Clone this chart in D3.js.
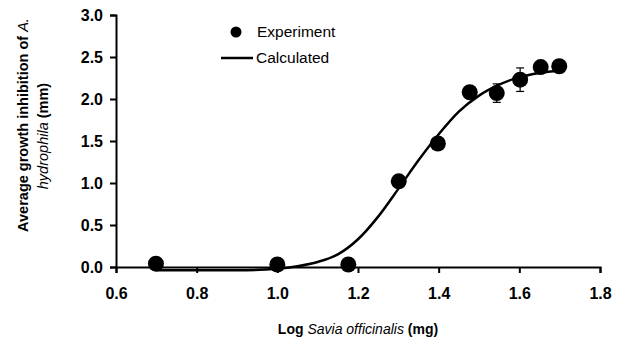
<!DOCTYPE html>
<html>
<head>
<meta charset="utf-8">
<script src="https://cdn.jsdelivr.net/npm/d3@7"></script>
<style>
  body { margin: 0; background: #fff; }
  text { font-family: "Liberation Sans", Arial, sans-serif; fill: #000; }
</style>
</head>
<body>
<div class="chart"></div>
<script>
// measured points
const logDose = [0.699, 1.0, 1.176, 1.301, 1.398, 1.477, 1.544, 1.602, 1.653, 1.699];
const inhibition = [0.04, 0.03, 0.03, 1.02, 1.47, 2.08, 2.07, 2.23, 2.38, 2.39];
const inhibitionErr = [0, 0, 0, 0, 0, 0, 0.11, 0.14, 0, 0];

// fitted curve
const curveX = [0.70, 0.80, 0.90, 1.00, 1.05, 1.10, 1.15, 1.20, 1.25, 1.30, 1.35, 1.40, 1.45, 1.50, 1.55, 1.60, 1.65, 1.70];
const curveY = [-0.04, -0.04, -0.04, -0.02, 0.01, 0.06, 0.15, 0.33, 0.60, 0.93, 1.27, 1.58, 1.85, 2.04, 2.17, 2.26, 2.31, 2.34];

const xTicks = [0.6, 0.8, 1.0, 1.2, 1.4, 1.6, 1.8];
const yTicks = [0, 0.5, 1.0, 1.5, 2.0, 2.5, 3.0];

const WIDTH = 626;
const HEIGHT = 340;
const LEFT = 116;
const RIGHT = 600;
const TOP = 15;
const BOTTOM = 267;

const svg = d3.create("svg").attr("width", WIDTH).attr("height", HEIGHT);

const xScale = d3.scaleLinear().domain([0.6, 1.8]).range([LEFT, RIGHT]);
const yScale = d3.scaleLinear().domain([0, 3]).range([BOTTOM, TOP]);

const xAxis = d3.axisBottom(xScale).tickValues(xTicks).tickFormat(d3.format(".1f")).tickSize(6).tickPadding(15);
const yAxis = d3.axisLeft(yScale).tickValues(yTicks).tickFormat(d3.format(".1f")).tickSize(6).tickPadding(7);

const gx = svg.append("g").attr("transform", `translate(0, ${BOTTOM})`).call(xAxis);
const gy = svg.append("g").attr("transform", `translate(${LEFT}, 0)`).call(yAxis);

for (const g of [gx, gy]) {
  g.select(".domain").attr("stroke", "#000").attr("stroke-width", 2);
  g.selectAll(".tick line").attr("stroke", "#000").attr("stroke-width", 2);
  g.selectAll(".tick text")
    .style("font-family", "'Liberation Sans', Arial, sans-serif")
    .style("font-size", "16px")
    .style("font-weight", "bold")
    .attr("fill", "#000");
}

// calculated curve
const line = d3.line()
  .x((d, i) => xScale(curveX[i]))
  .y((d) => yScale(d))
  .curve(d3.curveMonotoneX);

svg.append("path")
  .attr("d", line(curveY))
  .attr("fill", "none")
  .attr("stroke", "#000")
  .attr("stroke-width", 2.5);

// error bars
const errs = svg.append("g").attr("stroke", "#000").attr("stroke-width", 1.2);
logDose.forEach((x, i) => {
  if (!inhibitionErr[i]) return;
  const cx = xScale(x);
  const y0 = yScale(inhibition[i] - inhibitionErr[i]);
  const y1 = yScale(inhibition[i] + inhibitionErr[i]);
  errs.append("line").attr("x1", cx).attr("x2", cx).attr("y1", y0).attr("y2", y1);
  errs.append("line").attr("x1", cx - 4).attr("x2", cx + 4).attr("y1", y0).attr("y2", y0);
  errs.append("line").attr("x1", cx - 4).attr("x2", cx + 4).attr("y1", y1).attr("y2", y1);
});

// experiment points
svg.append("g")
  .selectAll("circle")
  .data(logDose)
  .join("circle")
  .attr("cx", (d) => xScale(d))
  .attr("cy", (d, i) => yScale(inhibition[i]))
  .attr("r", 8)
  .attr("fill", "#000");

// legend
const legend = svg.append("g");
legend.append("circle").attr("cx", 236).attr("cy", 32).attr("r", 5.5).attr("fill", "#000");
legend.append("text").attr("x", 257).attr("y", 32).attr("dy", "0.35em")
  .style("font-size", "15.5px").text("Experiment");
legend.append("line").attr("x1", 221).attr("x2", 253).attr("y1", 58).attr("y2", 58)
  .attr("stroke", "#000").attr("stroke-width", 2.5);
legend.append("text").attr("x", 256).attr("y", 58).attr("dy", "0.35em")
  .style("font-size", "15.5px").text("Calculated");

// x title
const xTitle = svg.append("text")
  .attr("x", (LEFT + RIGHT) / 2)
  .attr("y", 329)
  .attr("dy", "0.35em")
  .attr("text-anchor", "middle")
  .style("font-size", "14px");
xTitle.append("tspan").style("font-weight", "bold").text("Log ");
xTitle.append("tspan").style("font-style", "italic").text("Savia officinalis");
xTitle.append("tspan").style("font-weight", "bold").text(" (mg)");

// y title, two lines
const yTitle1 = svg.append("text")
  .attr("transform", "translate(23, 125) rotate(-90)")
  .attr("dy", "0.35em")
  .attr("text-anchor", "middle")
  .style("font-size", "14.5px");
yTitle1.append("tspan").style("font-weight", "bold").text("Average growth inhibition of ");
yTitle1.append("tspan").style("font-style", "italic").text("A.");

const yTitle2 = svg.append("text")
  .attr("transform", "translate(43, 136) rotate(-90)")
  .attr("dy", "0.35em")
  .attr("text-anchor", "middle")
  .style("font-size", "14.5px");
yTitle2.append("tspan").style("font-style", "italic").text("hydrophila");
yTitle2.append("tspan").style("font-weight", "bold").text(" (mm)");

document.querySelector(".chart").append(svg.node());
</script>
</body>
</html>
